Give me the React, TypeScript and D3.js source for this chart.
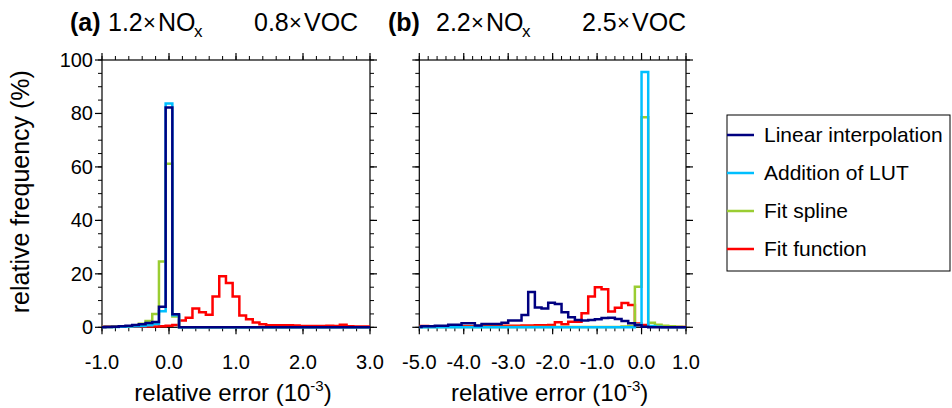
import React from 'react';
import * as d3 from 'd3';

// ---------- data ----------
const seriesNames = ['Linear interpolation', 'Addition of LUT', 'Fit spline', 'Fit function'];
const seriesColors = ['#000080', '#00bfff', '#9acd32', '#ff0000'];

// Panel (a): 41 bins, centres -1.0 ... 3.0, width 0.1
const binStartA = -1.05;
const binWidthA = 0.1;
const linA = [0, 0.1, 0.2, 0.4, 0.6, 0.9, 1.1, 1.6, 2.0, 7.7, 82.2, 4.9,
  0, 0, 0, 0, 0, 0, 0, 0, 0, 0, 0, 0, 0, 0, 0, 0, 0, 0, 0, 0, 0, 0, 0, 0, 0, 0, 0, 0, 0];
const lutA = [0.1, 0.1, 0.1, 0.2, 0.3, 0.4, 0.5, 0.8, 1.2, 6.0, 83.7, 4.5,
  0, 0, 0, 0, 0, 0, 0, 0, 0, 0, 0, 0, 0, 0, 0, 0, 0, 0, 0, 0, 0, 0, 0, 0, 0, 0, 0, 0, 0];
const splA = [0.1, 0.1, 0.2, 0.3, 0.4, 0.6, 1.3, 2.4, 5.0, 24.6, 61.2, 4.0,
  0, 0, 0, 0, 0, 0, 0, 0, 0, 0, 0, 0, 0, 0, 0, 0, 0, 0, 0, 0, 0, 0, 0, 0, 0, 0, 0, 0, 0];
const fitA = [0.3, 0.3, 0.3, 0.3, 0.3, 0.3, 0.3, 0.3, 0.3, 0.4, 0.6, 0.9, 2.5, 3.6, 7.0, 5.6, 4.7,
  11.5, 19.1, 16.6, 11.5, 4.4, 3.0, 1.8, 1.1, 0.8, 0.8, 0.8, 0.8, 0.7, 0.5, 0.5, 0.5, 0.5, 0.6,
  0.5, 1.0, 0.4, 0.3, 0.3, 0.3];

// Panel (b): 41 bins, edges -5.1 ... 1.05, width 0.15
const binStartB = -5.1;
const binWidthB = 0.15;
const linB = [0.1, 0.4, 0.4, 0.6, 0.6, 1.0, 1.0, 1.5, 1.5, 0.7, 1.2, 1.2, 1.2, 1.7, 2.5, 2.5, 4.6,
  13.2, 7.4, 7.0, 9.2, 8.7, 5.6, 3.8, 2.7, 2.5, 2.7, 3.0, 3.5, 3.6, 3.1, 2.4, 1.5, 0.8, 0.2,
  0, 0, 0, 0, 0, 0];
const lutB = [0.05, 0.05, 0.05, 0.05, 0.05, 0.05, 0.05, 0.05, 0.05, 0.05, 0.05, 0.05, 0.05, 0.05,
  0.05, 0.05, 0.05, 0.05, 0.05, 0.05, 0.05, 0.05, 0.05, 0.05, 0.05, 0.05, 0.05, 0.05, 0.05, 0.05,
  0.05, 0.05, 0.05, 1.0, 95.5, 0.5, 0.2, 0.05, 0.05, 0.05, 0.05];
const splB = [0.1, 0.1, 0.1, 0.1, 0.1, 0.1, 0.1, 0.1, 0.1, 0.1, 0.1, 0.1, 0.1, 0.1, 0.1, 0.1, 0.1,
  0.1, 0.1, 0.1, 0.1, 0.1, 0.1, 0.1, 0.1, 0.1, 0.1, 0.1, 0.1, 0.1, 0.1, 0.3, 0.5, 15.2, 78.6, 1.7,
  1.0, 0.6, 0.4, 0.2, 0.1];
const fitB = [0.5, 0.5, 0.3, 0.3, 0.3, 0.3, 0.3, 0.4, 0.4, 0.4, 0.5, 0.5, 0.5, 0.6, 0.6, 0.6, 0.7,
  0.7, 0.8, 0.8, 0.9, 1.9, 1.1, 2.1, 2.1, 5.3, 11.5, 15.0, 14.2, 5.9, 7.3, 9.1, 8.3, 1.4, 0.9, 0.4,
  0.2, 0.1, 0.1, 0.1, 0.1];

const xTicksA = [-1, 0, 1, 2, 3];
const xTicksB = [-5, -4, -3, -2, -1, 0, 1];
const yTicks = [0, 20, 40, 60, 80, 100];

// ---------- layout ----------
const W = 952;
const H = 408;
const top = 60;
const bottom = 327.3;
const FONT = "'Liberation Sans', Arial, Helvetica, sans-serif";

const yScale = d3.scaleLinear().domain([0, 100]).range([bottom, top]);

type PanelProps = {
  id: string;
  left: number;
  right: number;
  domain: [number, number];
  binStart: number;
  binWidth: number;
  series: number[][];
  xTicks: number[];
  showYLabels: boolean;
};

function Panel({ id, left, right, domain, binStart, binWidth, series, xTicks, showYLabels }: PanelProps) {
  const x = d3.scaleLinear().domain(domain).range([left, right]);
  const line = d3
    .line<[number, number]>()
    .x((d) => x(d[0]))
    .y((d) => yScale(d[1]))
    .curve(d3.curveStepAfter);
  const pathFor = (vals: number[]) => {
    const pts: [number, number][] = vals.map((v, i) => [binStart + i * binWidth, v]);
    pts.push([binStart + vals.length * binWidth, vals[vals.length - 1]]);
    return line(pts) || '';
  };
  const xMinor = d3.range(domain[0], domain[1] + 1e-9, 0.2);
  const yMinor = d3.range(0, 100.001, 5);
  const majLen = 7;
  const minLen = 4;
  const order = [3, 2, 1, 0];
  return (
    <g>
      <defs>
        <clipPath id={`clip-${id}`}>
          <rect x={left} y={top - 3} width={right - left} height={bottom - top + 6} />
        </clipPath>
      </defs>
      <rect x={left} y={top} width={right - left} height={bottom - top} fill="none" stroke="#000" strokeWidth={1.2} />
      {xMinor.map((t, i) => (
        <g key={`xm${i}`} stroke="#000" strokeWidth={1}>
          <line x1={x(t)} x2={x(t)} y1={bottom} y2={bottom + minLen} />
          <line x1={x(t)} x2={x(t)} y1={top} y2={top - minLen} />
        </g>
      ))}
      {xTicks.map((t, i) => (
        <g key={`xM${i}`} stroke="#000" strokeWidth={1.2}>
          <line x1={x(t)} x2={x(t)} y1={bottom} y2={bottom + majLen} />
          <line x1={x(t)} x2={x(t)} y1={top} y2={top - majLen} />
        </g>
      ))}
      {yMinor.map((t, i) => (
        <g key={`ym${i}`} stroke="#000" strokeWidth={1}>
          <line x1={left} x2={left - minLen} y1={yScale(t)} y2={yScale(t)} />
          <line x1={right} x2={right + minLen} y1={yScale(t)} y2={yScale(t)} />
        </g>
      ))}
      {yTicks.map((t, i) => (
        <g key={`yM${i}`} stroke="#000" strokeWidth={1.2}>
          <line x1={left} x2={left - majLen} y1={yScale(t)} y2={yScale(t)} />
          <line x1={right} x2={right + majLen} y1={yScale(t)} y2={yScale(t)} />
        </g>
      ))}
      {xTicks.map((t, i) => (
        <text key={`xl${i}`} x={x(t)} y={369} textAnchor="middle" fontSize={20} fontFamily={FONT} fill="#000">
          {t.toFixed(1)}
        </text>
      ))}
      {showYLabels &&
        yTicks.map((t, i) => (
          <text key={`yl${i}`} x={left - 9} y={yScale(t) + 7} textAnchor="end" fontSize={20} fontFamily={FONT} fill="#000">
            {String(t)}
          </text>
        ))}
      <text x={(left + right) / 2 - 3} y={401} textAnchor="middle" fontSize={24} fontFamily={FONT} fill="#000">
        relative error (10
        <tspan fontSize={15} dy={-10}>-3</tspan>
        <tspan dy={10}>)</tspan>
      </text>
      <g clipPath={`url(#clip-${id})`}>
        {order.map((s) => (
          <path key={s} d={pathFor(series[s])} fill="none" stroke={seriesColors[s]} strokeWidth={2.5} strokeLinejoin="miter" />
        ))}
      </g>
    </g>
  );
}

// title pieces placed at fixed x offsets relative to the panel title start
function Title({ x, gap, label, a, b }: { x: number; gap: number; label: string; a: string; b: string }) {
  const fs = 25;
  const base = 31;
  const xx = x + gap;
  return (
    <g fontFamily={FONT} fill="#000">
      <text x={x} y={base} fontSize={fs} fontWeight="bold">{label}</text>
      <text x={xx + 38} y={base} fontSize={fs}>{a}</text>
      <text x={xx + 73} y={base - 1} fontSize={22}>×</text>
      <text x={xx + 88} y={base} fontSize={fs}>NO</text>
      <text x={xx + 124} y={base + 6} fontSize={17}>x</text>
      <text x={xx + 184} y={base} fontSize={fs}>{b}</text>
      <text x={xx + 219} y={base - 1} fontSize={22}>×</text>
      <text x={xx + 234} y={base} fontSize={fs}>VOC</text>
    </g>
  );
}

export default function App() {
  const legendX = 727;
  const legendY = 115;
  const rowY = [135, 173, 211, 249];
  return (
    <div style={{ position: 'absolute', left: 0, top: 0 }}>
      <svg width={W} height={H} style={{ display: 'block', background: '#fff' }}>
        <Title x={70} gap={0} label="(a)" a="1.2" b="0.8" />
        <Title x={388} gap={10} label="(b)" a="2.2" b="2.5" />
        <text
          transform={`translate(29,${(top + bottom) / 2 - 2}) rotate(-90)`}
          textAnchor="middle"
          fontSize={25}
          fontFamily={FONT}
          fill="#000"
        >
          relative frequency (%)
        </text>
        <Panel
          id="a"
          left={102}
          right={370}
          domain={[-1, 3]}
          binStart={binStartA}
          binWidth={binWidthA}
          series={[linA, lutA, splA, fitA]}
          xTicks={xTicksA}
          showYLabels={true}
        />
        <Panel
          id="b"
          left={419.3}
          right={686}
          domain={[-5, 1]}
          binStart={binStartB}
          binWidth={binWidthB}
          series={[linB, lutB, splB, fitB]}
          xTicks={xTicksB}
          showYLabels={false}
        />
        <rect x={legendX} y={legendY} width={223} height={156} fill="#fff" stroke="#000" strokeWidth={1} />
        {seriesNames.map((n, i) => (
          <g key={n}>
            <line x1={legendX} x2={legendX + 27} y1={rowY[i]} y2={rowY[i]} stroke={seriesColors[i]} strokeWidth={2.5} />
            <text x={legendX + 37} y={rowY[i] + 7} fontSize={21} fontFamily={FONT} fill="#000">
              {n}
            </text>
          </g>
        ))}
      </svg>
    </div>
  );
}
